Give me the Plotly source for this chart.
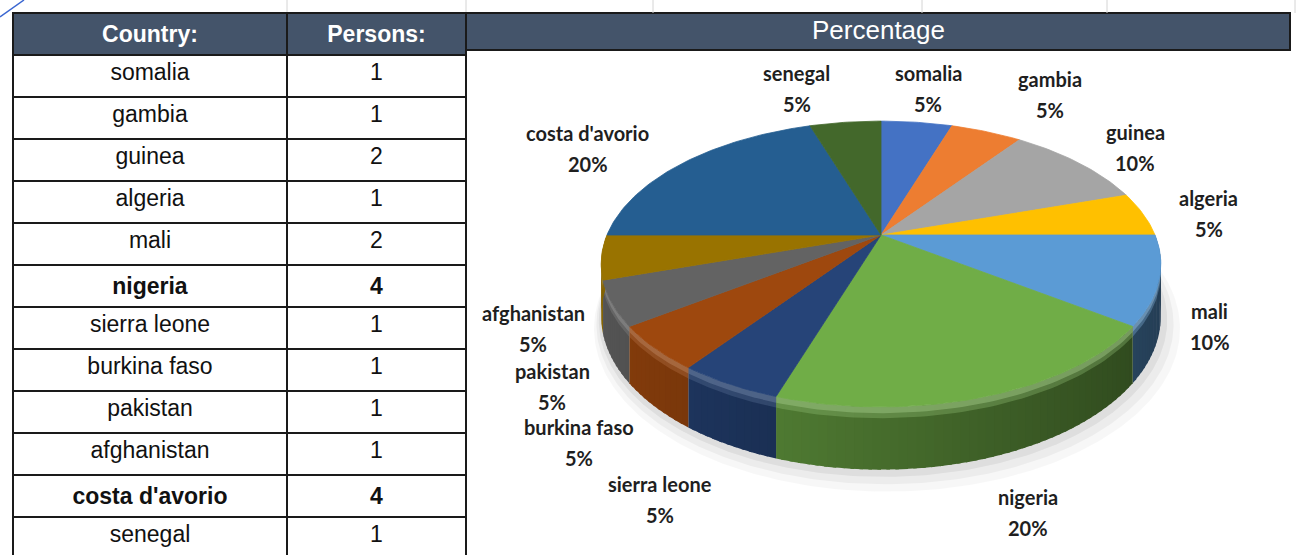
import numpy as np
import plotly.graph_objects as go

# ---------------- data ----------------
countries = ["somalia", "gambia", "guinea", "algeria", "mali", "nigeria",
             "sierra leone", "burkina faso", "pakistan", "afghanistan",
             "costa d'avorio", "senegal"]
persons = [1, 1, 2, 1, 2, 4, 1, 1, 1, 1, 4, 1]
slice_colors = ["#4472C4", "#ED7D31", "#A5A5A5", "#FFC000", "#5B9BD5", "#70AD47",
                "#264478", "#9E480E", "#636363", "#997300", "#255E91", "#43682B"]
header_labels = ["Country:", "Persons:"]
chart_title = "Percentage"

# ---------------- layout constants ----------------
W, H = 1302, 555
CX, CY = 881, 235          # pie centre (px)
A, B = 274, 137            # ellipse radii before perspective
P = 0.203                  # perspective factor
D = 50                     # pie thickness
HEADER_COLOR = "#44546A"
LINE_DARK = "#1a1a1a"

# label nudges (px) relative to the computed anchor on each slice's mid-angle
label_nudge = [(3, -7), (38, -12), (5, 3), (-10, 5), (-40, 4), (0, 18),
               (-10, 24), (8, 22), (32, 31), (19, 38), (-44, 4), (-40, -7)]


def proj(t_deg, r=1.0, h=0.0):
    t = np.radians(np.asarray(t_deg, dtype=float))
    u = r * np.cos(t)
    v = r * np.sin(t)
    w = 1 + P * v
    return CX + A * u / w, CY - B * v / w + h / w


def hex2rgb(c):
    c = c.lstrip("#")
    return tuple(int(c[i:i + 2], 16) for i in (0, 2, 4))


def shade(c, f):
    r, g, b = hex2rgb(c)
    return f"rgb({int(r * f)},{int(g * f)},{int(b * f)})"


def tint(c, f, alpha=1.0):
    r, g, b = hex2rgb(c)
    return f"rgba({int(r + (255 - r) * f)},{int(g + (255 - g) * f)},{int(b + (255 - b) * f)},{alpha})"


total = sum(persons)
cum = np.concatenate([[0], np.cumsum(persons)])
starts = 90 - 360 * cum[:-1] / total
ends = 90 - 360 * cum[1:] / total

fig = go.Figure()

# ---- soft shadow ----
tt = np.linspace(0, 360, 361)
for r, dh, dx, op in [(1.045, D + 9, 6, 0.03), (1.03, D + 6, 4, 0.045), (1.015, D + 3, 2, 0.06)]:
    x, y = proj(tt, r=r, h=dh)
    fig.add_trace(go.Scatter(x=x + dx, y=y, mode="lines", fill="toself",
                             fillcolor=f"rgba(0,0,0,{op})", line=dict(width=0),
                             hoverinfo="skip", showlegend=False))

# ---- side faces (front half only) ----
for i in range(len(countries)):
    hi = min(starts[i], 0.0)
    lo = max(ends[i], -180.0)
    if hi <= lo:
        continue
    n = max(2, int(np.ceil((hi - lo) / 1.5)))
    edges = np.linspace(hi, lo, n + 1)
    for k, (a0, a1) in enumerate(zip(edges[:-1], edges[1:])):
        # overlap each band into the next to avoid seams
        a1o = max(lo, a1 - 0.6)
        ts = np.linspace(a0, a1o, 5)
        xt, yt = proj(ts)
        xb, yb = proj(ts[::-1], h=D)
        mid = np.radians((a0 + a1) / 2)
        f = 0.63 - 0.24 * np.cos(mid)
        col = shade(slice_colors[i], f)
        fig.add_trace(go.Scatter(x=np.concatenate([xt, xb]), y=np.concatenate([yt, yb]),
                                 mode="lines", fill="toself", fillcolor=col,
                                 line=dict(width=0),
                                 hoverinfo="skip", showlegend=False))
    # bevel highlight just below the top edge
    ts = np.linspace(hi, lo, 60)
    for h0, h1, fa, al in [(0, 9, 0.25, 0.35), (0, 5, 0.35, 0.45)]:
        xa, ya = proj(ts, h=h0)
        xb, yb = proj(ts[::-1], h=h1)
        fig.add_trace(go.Scatter(x=np.concatenate([xa, xb]), y=np.concatenate([ya, yb]),
                                 mode="lines", fill="toself",
                                 fillcolor=tint(slice_colors[i], fa, al), line=dict(width=0),
                                 hoverinfo="skip", showlegend=False))

# ---- top faces ----
for i in range(len(countries)):
    ts = np.linspace(starts[i], ends[i], max(8, int(abs(starts[i] - ends[i]))))
    xa, ya = proj(ts)
    x = np.concatenate([[CX], xa, [CX]])
    y = np.concatenate([[CY], ya, [CY]])
    fig.add_trace(go.Scatter(x=x, y=y, mode="lines", fill="toself",
                             fillcolor=slice_colors[i],
                             line=dict(width=0.8, color=slice_colors[i]),
                             name=countries[i], hoverinfo="name", showlegend=False))

# ---- labels ----
annotations = []
lab_font = dict(family="Lato, Noto Sans, sans-serif", size=20, color="#1f1f1f")
for i in range(len(countries)):
    mid = (starts[i] + ends[i]) / 2
    lx, ly = proj(mid, r=1.3)
    lx, ly = float(lx), float(ly)
    if np.sin(np.radians(mid)) < 0:
        w = 1 + P * 1.3 * np.sin(np.radians(mid))
        ly += D / (2 * w)
    lx += label_nudge[i][0]
    ly += label_nudge[i][1]
    pct = f"{round(100 * persons[i] / total)}%"
    annotations.append(dict(x=lx, y=ly - 15.5, xref="x", yref="y", text=f"<b>{countries[i]}</b>",
                            showarrow=False, font=lab_font, xanchor="center", yanchor="middle"))
    annotations.append(dict(x=lx, y=ly + 15.5, xref="x", yref="y", text=f"<b>{pct}</b>",
                            showarrow=False, font=lab_font, xanchor="center", yanchor="middle"))

annotations.append(dict(x=(466 + 1290) / 2, y=30, xref="x", yref="y", text=chart_title,
                        showarrow=False, xanchor="center", yanchor="middle",
                        font=dict(family="Liberation Sans, Arial, sans-serif", size=26, color="white")))

# ---- table ----
max_p = max(persons)
cell_c = [f"<b>{c}</b>" if p == max_p else c for c, p in zip(countries, persons)]
cell_p = [f"<b>{p}</b>" if p == max_p else str(p) for p in persons]
fig.add_trace(go.Table(
    domain=dict(x=[13 / W, 466 / W], y=[0, 1 - 13 / H]),
    columnwidth=[274, 179],
    header=dict(values=[f"<b>{h}</b>" for h in header_labels], fill_color=HEADER_COLOR,
                font=dict(family="Liberation Sans, Arial, sans-serif", size=23, color="white"),
                height=37, align="center", line=dict(color=LINE_DARK, width=2)),
    cells=dict(values=[cell_c, cell_p], fill_color="white",
               font=dict(family="Liberation Sans, Arial, sans-serif", size=23, color="#111111"),
               height=42, align="center", line=dict(color=LINE_DARK, width=2)),
))

# ---- shapes: header bar, faint sheet gridlines ----
shapes = [
    dict(type="rect", xref="x", yref="y", x0=466, x1=1290, y0=13, y1=50,
         fillcolor=HEADER_COLOR, line=dict(color=LINE_DARK, width=2), layer="below"),
    dict(type="line", xref="x", yref="y", x0=466, x1=466, y0=13, y1=555,
         line=dict(color=LINE_DARK, width=2)),
    dict(type="line", xref="x", yref="y", x0=0, x1=24, y0=17, y1=0,
         line=dict(color="#3a66d1", width=1.5)),
]
for gx in [287, 466, 653, 922, 1107, 1295]:
    shapes.append(dict(type="line", xref="x", yref="y", x0=gx, x1=gx, y0=0, y1=13,
                       line=dict(color="#d4d4d4", width=1), layer="below"))

fig.update_layout(
    width=W, height=H, margin=dict(l=0, r=0, t=0, b=0),
    paper_bgcolor="white", plot_bgcolor="white",
    xaxis=dict(range=[0, W], visible=False, domain=[0, 1], fixedrange=True),
    yaxis=dict(range=[H, 0], visible=False, domain=[0, 1], fixedrange=True),
    annotations=annotations, shapes=shapes,
)

fig.write_html("out.html")
